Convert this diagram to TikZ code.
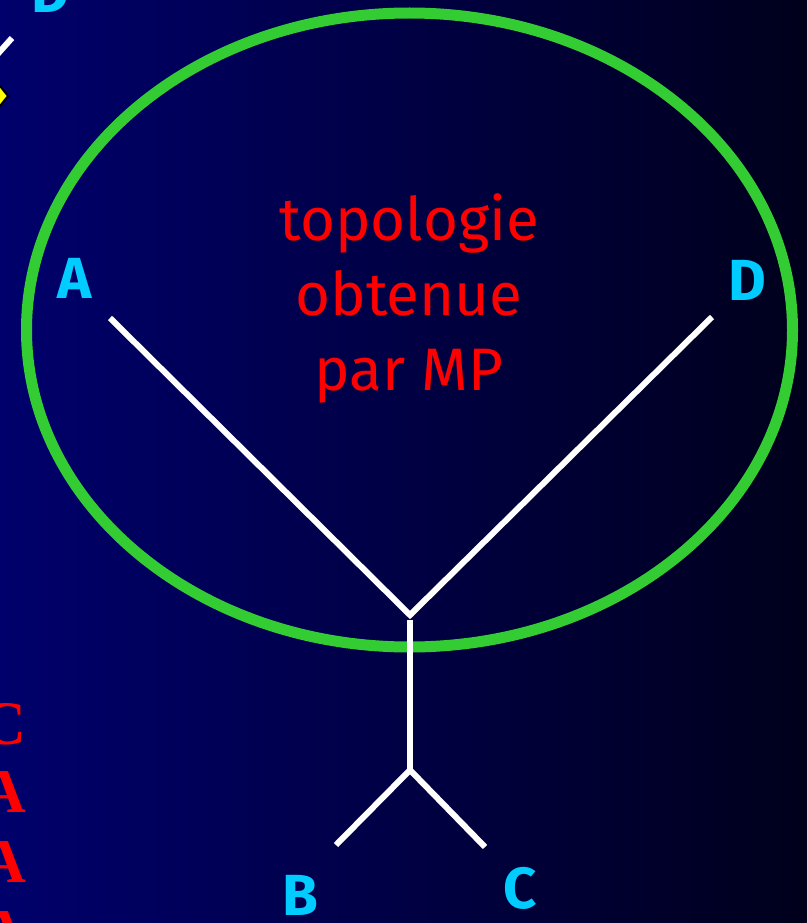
\documentclass[tikz,border=0pt]{standalone}
\usepackage{fontspec}
\setmainfont{Fira Sans}
\newfontfamily\edgeserif{Liberation Serif}
\definecolor{bgl}{RGB}{0,0,108}
\definecolor{bgr}{RGB}{0,0,28}
\definecolor{lblcyan}{RGB}{0,204,255}
\definecolor{ringgreen}{RGB}{51,204,51}
\definecolor{txtred}{RGB}{255,0,0}
\definecolor{diayellow}{RGB}{255,255,0}
\tikzset{
  branch/.style={draw=white,line width=6pt},
  leaf/.style={text=lblcyan,font=\fontsize{58}{58}\selectfont\bfseries,inner sep=0pt},
  edge letter/.style={text=txtred,font=\edgeserif\bfseries\fontsize{62}{62}\selectfont,inner sep=0pt}
}
\begin{document}
\begin{tikzpicture}[x=1pt,y=-1pt]
\useasboundingbox (0,0) rectangle (807,923);
\shade[left color=bgl,right color=bgr] (0,0) rectangle (807,923);
\begin{scope}
\clip (0,0) rectangle (807,923);
% fragments at left edge
\node[leaf,anchor=center] (dfrag) at (50,-8) {D};
\draw[branch] (-5,57) -- (12,38);
\fill[diayellow,draw=black,line width=2pt] (-8,96) -- (0,86) -- (8,96) -- (0,106) -- cycle;
\node[edge letter] (c1) at (4,724) {C};
\node[edge letter] (a1) at (4,792) {A};
\node[edge letter] (a2) at (4,862) {A};
\node[edge letter] (a3) at (4,932) {A};
\end{scope}
% ring
\draw[ringgreen,line width=11pt] (409.5,330) ellipse [x radius=383,y radius=317];
% tree
\coordinate (tA) at (110,318);
\coordinate (tD) at (712,317);
\coordinate (j1) at (410,615);
\coordinate (j1b) at (410,620);
\coordinate (j2) at (410,770);
\coordinate (tB) at (336,845);
\coordinate (tC) at (485,847);
\draw[branch] (tA) -- (j1) -- (tD);
\draw[branch] (j1b) -- (j2);
\draw[branch] (tB) -- (j2) -- (tC);
% labels
\node[leaf] (lA) at (75,278) {A};
\node[leaf] (lD) at (747,280) {D};
\node[leaf] (lB) at (300,895) {B};
\node[leaf] (lC) at (520,888) {C};
\node[text=txtred,font=\fontsize{60}{75}\selectfont,align=center] (title) at (409,298) {topologie\\obtenue\\par MP};
\end{tikzpicture}
\end{document}
